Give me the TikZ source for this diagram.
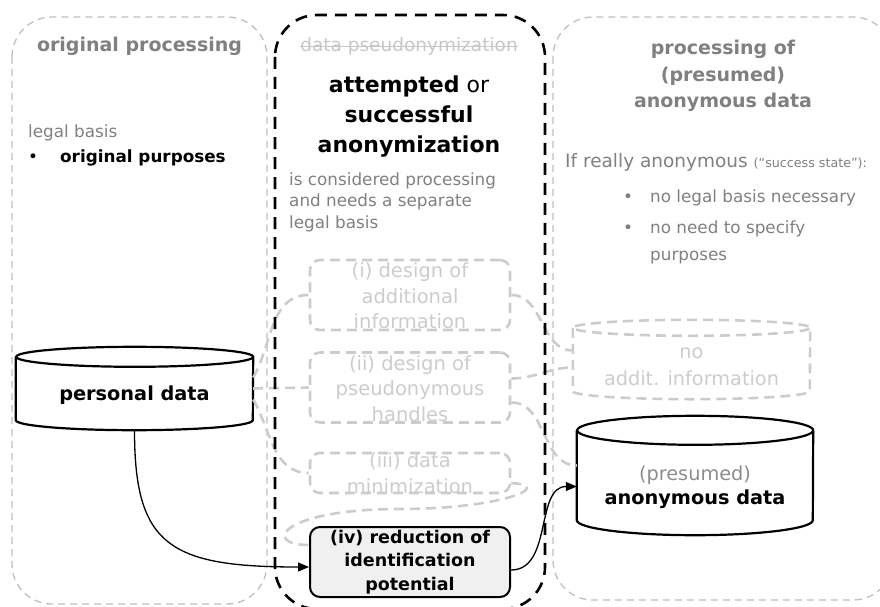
\documentclass[tikz,border=0pt]{standalone}
\usepackage{fontspec}
\setmainfont{DejaVu Sans}
\usetikzlibrary{arrows.meta}

\tikzset{
  panel/.style={draw=black!25, line width=1.3pt, dash pattern=on 7pt off 5pt, rounded corners=40pt},
  anonpanel/.style={draw=black, line width=2.6pt, dash pattern=on 12pt off 8pt, rounded corners=42pt},
  stepbox/.style={draw=black!20, line width=2.6pt, dash pattern=on 10pt off 6pt, rounded corners=10pt,
    text=black!20, minimum width=200pt, minimum height=70pt, inner sep=0pt, align=center,
    text height=68.5pt, text depth=1.5pt, font=\fontsize{19.5}{25.5}\selectfont},
  stepon/.style={stepbox, draw=black, solid, line width=2pt, fill=black!6, text=black,
    text height=63pt, text depth=7pt, font=\bfseries\fontsize{17.5}{23.5}\selectfont},
  dbtext/.style={minimum width=237pt, inner sep=0pt, align=center},
  dbline/.style={draw=black, line width=2.2pt},
  dboff/.style={draw=black!20, line width=2.6pt, dash pattern=on 10pt off 6pt},
  conn/.style={draw=black!20, line width=2.6pt, dash pattern=on 10pt off 6pt},
  flow/.style={draw=black, line width=1.3pt, -{Triangle[length=11pt,width=9pt]}},
  head/.style={font=\bfseries\fontsize{19}{26.5}\selectfont, text=black!50, align=center, inner sep=0pt},
  body/.style={font=\fontsize{16.8}{21.5}\selectfont, text=black!50, align=left, inner sep=0pt},
}

\begin{document}
\begin{tikzpicture}[x=1pt,y=1pt]
\useasboundingbox (0,0) rectangle (880,-607);

% the three phases
\draw[panel] (12,-17) rectangle (267,-604);
\draw[panel] (553,-17) rectangle (893,-600);

% texts of the phases
\node[head, anchor=base] (origT) at (139.5,-52) {original processing};
\node[body, anchor=base west] (legalT) at (28,-138) {legal basis};
\node[body, anchor=base west, text=black] (purpT) at (28,-162) {\makebox[32pt][l]{\textbullet}\textbf{original purposes}};
\node[anchor=base, inner sep=0pt, text=black!22, font=\fontsize{18.5}{22}\selectfont] (pseudoT) at (409,-52) {data pseudonymization};
\draw[black!22, line width=0.9pt] ([yshift=5.5pt]pseudoT.base west) -- ([yshift=5.5pt]pseudoT.base east);
\node[anchor=base, align=center, inner sep=0pt, font=\fontsize{22}{29.5}\selectfont] (anonT) at (409,-152)
  {\textbf{attempted} or\\\textbf{successful}\\\textbf{anonymization}};
\node[body, anchor=base west] (consT) at (289,-228) {is considered processing\\and needs a separate\\legal basis};
\node[head, anchor=base] (presT) at (723,-108) {processing of\\(presumed)\\anonymous data};
\node[body, anchor=base west, font=\fontsize{18.5}{24}\selectfont] (ifT) at (565,-167) {If really anonymous {\fontsize{12.7}{16}\selectfont(“success state”):}};
\node[body, anchor=base west, font=\fontsize{16.8}{27}\selectfont] (listT) at (623,-260)
  {\makebox[27pt][l]{\textbullet}no legal basis necessary\\[4pt]\makebox[27pt][l]{\textbullet}no need to specify\\\hspace*{27pt}purposes};

% data stores
\node[dbtext, minimum height=83pt, text height=23pt, text depth=0pt, font=\bfseries\fontsize{19.3}{24}\selectfont] (pers) at (134.5,-388.5) {personal data};
\draw[dbline] ([yshift=-10pt]pers.north west) -- ([yshift=10pt]pers.south west)
  arc[start angle=180, end angle=360, x radius=118.5pt, y radius=10pt] -- ([yshift=-10pt]pers.north east)
  arc[start angle=0, end angle=360, x radius=118.5pt, y radius=10pt];

\node[dbtext, minimum height=79pt, text height=65pt, text depth=14pt, text=black!20, font=\fontsize{19.3}{27}\selectfont] (noadd) at (691.5,-359.5) {no\\addit. information};
\draw[dboff] ([yshift=-8pt]noadd.north west) -- ([yshift=8pt]noadd.south west)
  arc[start angle=180, end angle=360, x radius=118.5pt, y radius=8pt] -- ([yshift=-8pt]noadd.north east)
  arc[start angle=0, end angle=360, x radius=118.5pt, y radius=8pt];

\node[dbtext, minimum width=236pt, minimum height=119pt, text height=88pt, text depth=31pt, font=\fontsize{19.3}{24}\selectfont] (anon) at (695,-475.5)
  {\textcolor{black!45}{(presumed)}\\\textbf{anonymous data}};
\draw[dbline] ([yshift=-14.5pt]anon.north west) -- ([yshift=15pt]anon.south west)
  arc[start angle=180, end angle=360, x radius=118pt, y radius=15pt] -- ([yshift=-14.5pt]anon.north east)
  arc[start angle=0, end angle=360, x radius=118pt, y radius=14.5pt];

% pseudonymization steps
\node[stepbox] (s1) at (410,-295) {(i) design of\\additional\\information};
\node[stepbox] (s2) at (410,-387.5) {(ii) design of\\pseudonymous\\handles};
\node[stepbox, minimum height=40pt, text height=40pt, text depth=0pt] (s3) at (410,-473) {(iii) data\\minimization};
\node[stepon] (s4) at (410,-562) {(iv) reduction of\\identification\\potential};

% steps not taken
\coordinate (loop) at (400,-509);
\draw[conn] ([yshift=11pt]pers.east) to[out=60,in=180] (s1.west);
\draw[conn] (pers.east) -- (s2.west);
\draw[conn] ([yshift=-11pt]pers.east) to[out=-60,in=180] (s3.west);
\draw[conn] (s1.east) to[out=0,in=180] ([yshift=9pt]noadd.west);
\draw[conn] ([yshift=9pt]s2.east) to[out=0,in=180] ([yshift=-8pt]noadd.west);
\draw[conn] ([yshift=-15pt]s2.east) to[out=0,in=180] ([yshift=10pt]anon.west);
\draw[conn] ([yshift=-10pt]s3.east) .. controls +(45,-3) and +(100,0) .. (loop)
  .. controls +(-120,0) and +(-48,0) .. ([yshift=17pt]s4.west);

% the anonymization path
\draw[flow] (pers.south) .. controls +(0,-115) and +(-140,0) .. ([yshift=-5pt]s4.west);
\draw[flow] ([yshift=-8pt]s4.east) to[out=0,in=180] ([yshift=-11pt]anon.west);

\draw[anonpanel] (275,-15) rectangle (545,-609);
\end{tikzpicture}
\end{document}
